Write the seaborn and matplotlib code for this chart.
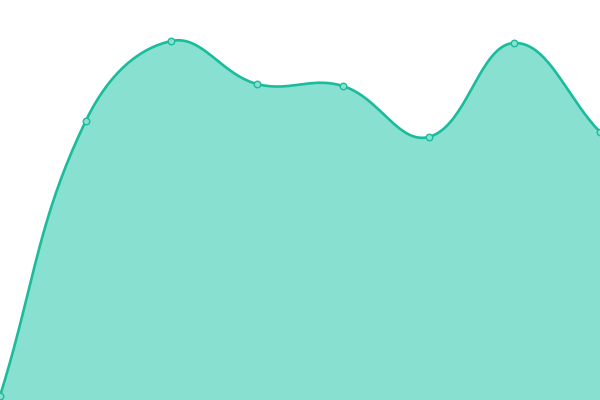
import numpy as np
import pandas as pd
import matplotlib
matplotlib.use('Agg')
import matplotlib.pyplot as plt
import seaborn as sns

sns.set_style('white')

categories = ['A', 'B', 'C', 'D', 'E', 'F', 'G', 'H']
values = [4, 279, 359, 316, 314, 263, 357, 268]

line_color = '#1abc9c'
fill_color = '#88e0d0'

W, H = 600, 400
x = np.arange(len(categories), dtype=float)
y = np.array(values, dtype=float)


# smooth curve through the points (bezier, tension 0.4), computed in pixel space
def smooth_curve(xs, ys, smooth=0.4, steps=40):
    sx = xs * W / (len(xs) - 1)
    sy = ys
    pts = np.column_stack([sx, sy])
    n = len(pts)
    cps = []
    for i in range(n):
        p = pts[i]
        prev = pts[i - 1] if i > 0 else p
        nxt = pts[i + 1] if i < n - 1 else p
        v = nxt - prev
        d0 = np.hypot(*(p - prev))
        d1 = np.hypot(*(nxt - p))
        tot = d0 + d1
        r = d1 / tot if tot else 0.5
        cp_in = p - v * smooth * (1 - r)
        cp_out = p + v * smooth * r
        cps.append((cp_in, cp_out))
    out = [pts[0]]
    t = np.linspace(0, 1, steps)[1:, None]
    for i in range(n - 1):
        p0, p3 = pts[i], pts[i + 1]
        c1, c2 = cps[i][1], cps[i + 1][0]
        seg = ((1 - t) ** 3) * p0 + 3 * ((1 - t) ** 2) * t * c1 + 3 * (1 - t) * t ** 2 * c2 + t ** 3 * p3
        out.extend(seg)
    out = np.array(out)
    return out[:, 0] * (len(xs) - 1) / W, out[:, 1]


cx, cy = smooth_curve(x, y)
curve = pd.DataFrame({'x': cx, 'y': cy})
points = pd.DataFrame({'x': x, 'y': y})

fig = plt.figure(figsize=(6, 4), dpi=100)
ax = fig.add_axes([0, 0, 1, 1])
ax.fill_between(cx, cy, 0, color=fill_color, linewidth=0)
sns.lineplot(data=curve, x='x', y='y', sort=False, color=line_color, linewidth=1.9, ax=ax)
sns.scatterplot(data=points, x='x', y='y', s=22, color=fill_color, edgecolor=line_color,
                linewidth=1.0, zorder=5, ax=ax)
ax.set_xlim(0, len(categories) - 1)
ax.set_ylim(0, 400)
ax.axis('off')

fig.savefig('out.png', dpi=100)
